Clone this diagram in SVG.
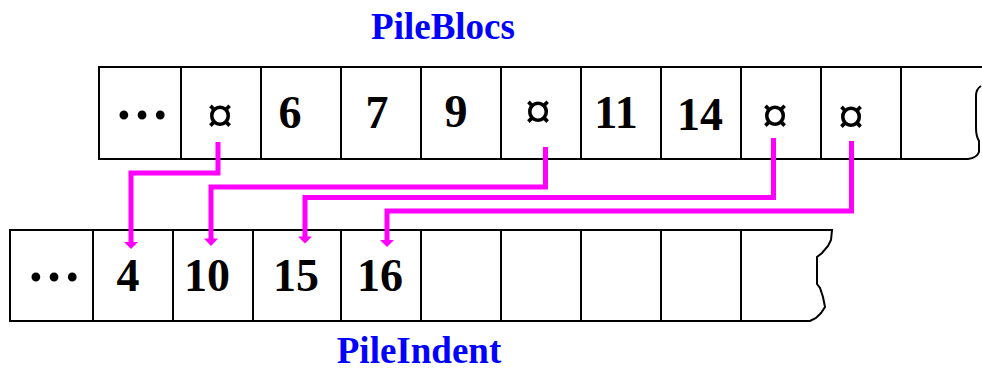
<svg xmlns="http://www.w3.org/2000/svg" width="982" height="372" viewBox="0 0 982 372">
<style>
.cell{fill:#fff;stroke:#000;stroke-width:2}
.num{font-family:"Liberation Serif","Times New Roman",serif;font-weight:bold;font-size:46px;fill:#000;text-anchor:middle}
.dots{font-family:"Liberation Serif","Times New Roman",serif;font-weight:bold;font-size:54px;fill:#000;text-anchor:middle}
.ptr{font-family:"Liberation Serif","Times New Roman",serif;font-weight:bold;font-size:52px;fill:#000;text-anchor:middle}
.title{font-family:"Liberation Serif","Times New Roman",serif;font-weight:bold;font-size:37px;fill:#0000FF;text-anchor:middle}
.conn{fill:none;stroke:#FF00FF;stroke-width:5}
.head{fill:#FF00FF}
</style>
<rect width="982" height="372" fill="#fff"/>
<text class="title" x="443" y="39">PileBlocs</text>
<g id="pileblocs">
<g id="b0"><rect class="cell" x="99" y="67" width="82" height="92"/><text class="dots" x="142" y="119">…</text></g>
<g id="b1"><rect class="cell" x="181" y="67" width="80" height="92"/><text class="ptr" x="220" y="133">¤</text></g>
<g id="b2"><rect class="cell" x="261" y="67" width="80" height="92"/><text class="num" x="290" y="128">6</text></g>
<g id="b3"><rect class="cell" x="341" y="67" width="80" height="92"/><text class="num" x="377" y="128">7</text></g>
<g id="b4"><rect class="cell" x="421" y="67" width="80" height="92"/><text class="num" x="456" y="127">9</text></g>
<g id="b5"><rect class="cell" x="501" y="67" width="80" height="92"/><text class="ptr" x="538" y="129">¤</text></g>
<g id="b6"><rect class="cell" x="581" y="67" width="80" height="92"/><text class="num" x="616" y="128">11</text></g>
<g id="b7"><rect class="cell" x="661" y="67" width="80" height="92"/><text class="num" x="700" y="130">14</text></g>
<g id="b8"><rect class="cell" x="741" y="67" width="80" height="92"/><text class="ptr" x="775" y="133">¤</text></g>
<g id="b9"><rect class="cell" x="821" y="67" width="80" height="92"/><text class="ptr" x="851" y="134">¤</text></g>
<g id="b10"><path class="cell" d="M983 67 H901 V159 H968 Q977 158 979 152 L979 141 Q976 136 976 128 L976 96 Q976 89 981 86"/></g>
</g>
<text class="title" x="419" y="363" font-size="36">PileIndent</text>
<g id="pileindent">
<g id="i0"><rect class="cell" x="10" y="230" width="83" height="91"/><text class="dots" x="54" y="281">…</text></g>
<g id="i1"><rect class="cell" x="93" y="230" width="80" height="91"/><text class="num" x="128" y="291">4</text></g>
<g id="i2"><rect class="cell" x="173" y="230" width="80" height="91"/><text class="num" x="207" y="291">10</text></g>
<g id="i3"><rect class="cell" x="253" y="230" width="88" height="91"/><text class="num" x="296" y="291">15</text></g>
<g id="i4"><rect class="cell" x="341" y="230" width="80" height="91"/><text class="num" x="380" y="291">16</text></g>
<g id="i5"><rect class="cell" x="421" y="230" width="80" height="91"/></g>
<g id="i6"><rect class="cell" x="501" y="230" width="80" height="91"/></g>
<g id="i7"><rect class="cell" x="581" y="230" width="80" height="91"/></g>
<g id="i8"><rect class="cell" x="661" y="230" width="80" height="91"/></g>
<g id="i9"><path class="cell" d="M741 230 H832 L831 240 L828 246 L822 253 L817 257 L817 284 L820 288 L823 297 L825 307 L821 313 L816 318 L810 321 H741 Z"/></g>
</g>
<g id="connectors">
<path class="conn" d="M218 142 V173 H131 V243"/>
<polygon class="head" points="124,242 138,242 131,249"/>
<path class="conn" d="M545.5 147 V187 H211 V239"/>
<polygon class="head" points="204,238.5 218,238.5 211,246"/>
<path class="conn" d="M773.5 138 V197.5 H305 V237"/>
<polygon class="head" points="298,236.5 312,236.5 305,243.5"/>
<path class="conn" d="M851.5 141 V211 H387 V241"/>
<polygon class="head" points="380,240 394,240 387,247"/>
</g>
</svg>
